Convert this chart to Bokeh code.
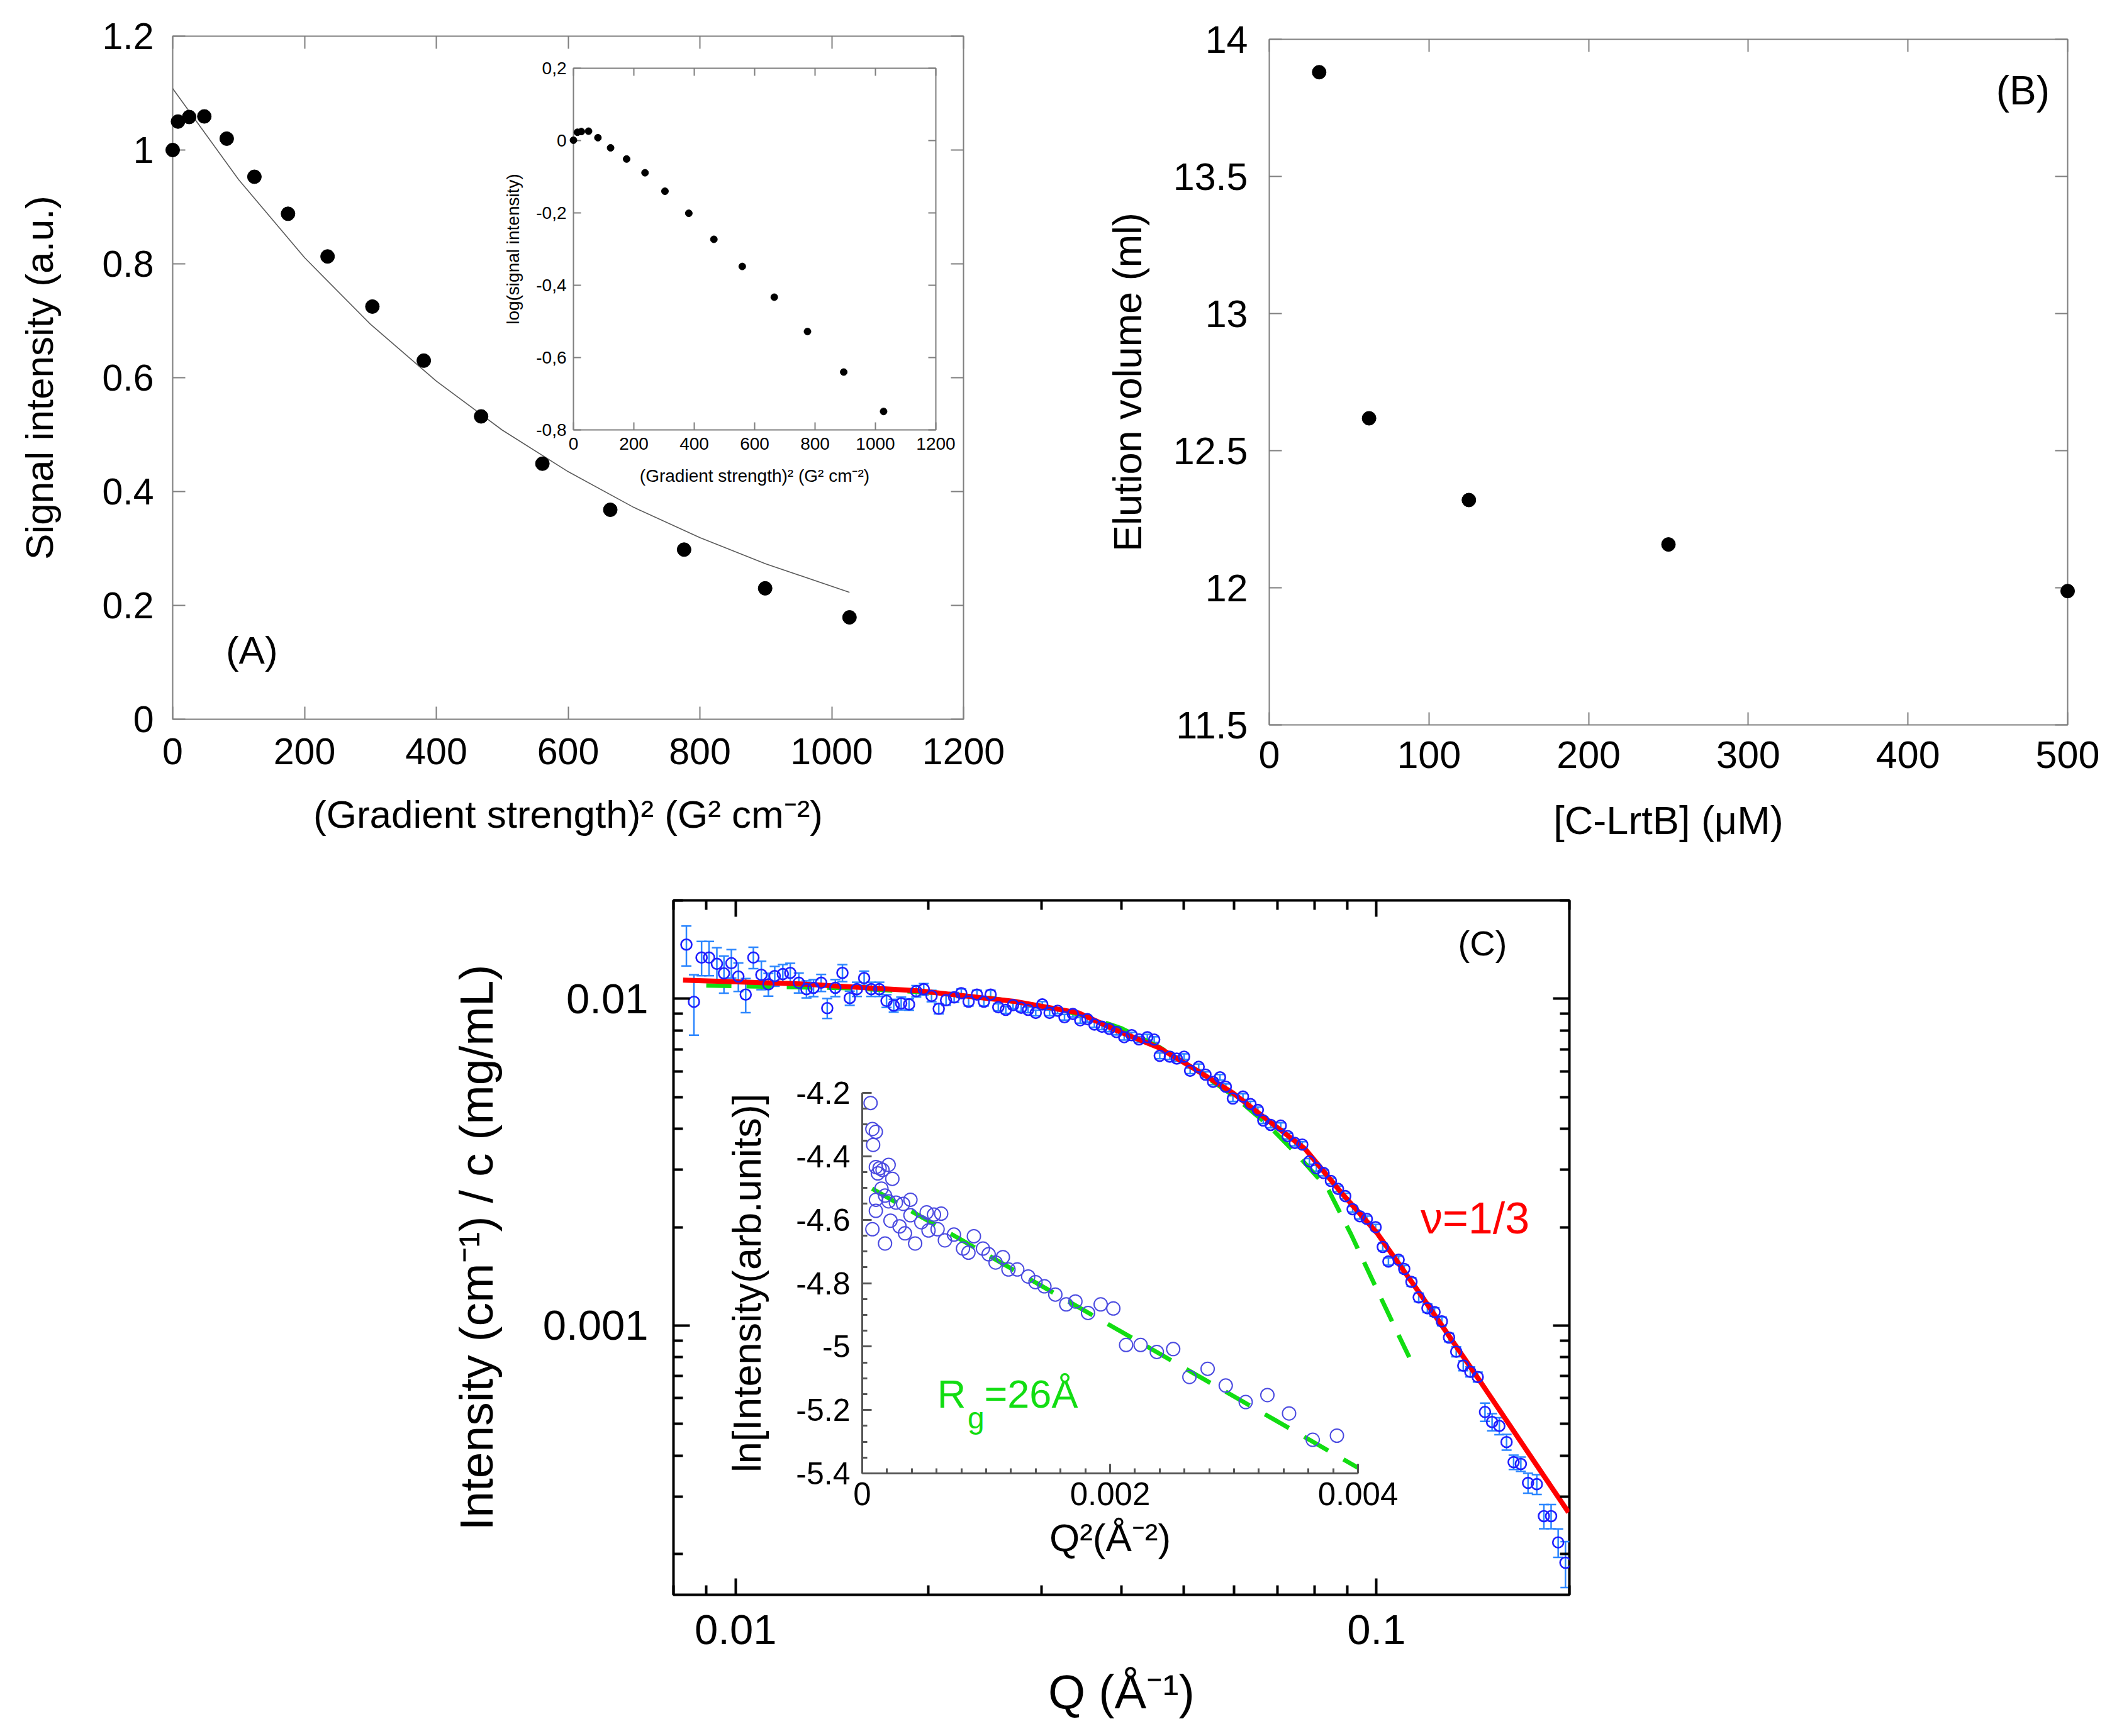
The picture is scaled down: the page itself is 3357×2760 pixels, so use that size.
from bokeh.plotting import figure
from bokeh.models import (LinearAxis, LogAxis, FixedTicker, CustomJSTickFormatter,
                          ColumnDataSource, Whisker, TeeHead)
from bokeh.embed import file_html
from bokeh.resources import INLINE
from bokeh.core.properties import value

FONT = "Liberation Sans"

# ---------------- Panel A : signal decay ----------------
grad2 = [0, 8, 25, 48, 82, 124, 175, 235, 303, 381, 468, 561, 664, 776, 899, 1027]
signal = [1.0, 1.050, 1.058, 1.059, 1.020, 0.953, 0.888, 0.813, 0.725, 0.630,
          0.532, 0.449, 0.368, 0.298, 0.230, 0.179]
fit_grad2 = [0, 100, 200, 300, 400, 500, 600, 700, 800, 900, 1027]
fit_signal = [1.108, 0.948, 0.811, 0.694, 0.594, 0.508, 0.435, 0.372, 0.319, 0.273, 0.223]
# inset of panel A
grad2_inset = [0, 13, 26, 50, 81, 123, 176, 237, 303, 382, 465, 559, 665, 775, 895, 1027]
log_signal = [0.001, 0.023, 0.025, 0.026, 0.008, -0.020, -0.051, -0.089, -0.140, -0.201,
              -0.273, -0.348, -0.433, -0.528, -0.640, -0.749]
a_xticks = [0, 200, 400, 600, 800, 1000, 1200]
a_yticks = [0, 0.2, 0.4, 0.6, 0.8, 1.0, 1.2]
ai_yticks = [-0.8, -0.6, -0.4, -0.2, 0, 0.2]

# ---------------- Panel B : elution volume ----------------
conc = [31.25, 62.5, 125, 250, 500]
elution = [13.880, 12.618, 12.320, 12.158, 11.988]
b_xticks = [0, 100, 200, 300, 400, 500]
b_yticks = [11.5, 12, 12.5, 13, 13.5, 14]

# ---------------- Panel C : SAXS ----------------
q_low = [0.00838, 0.00861, 0.00885, 0.00909, 0.00935, 0.00959, 0.00985, 0.0101, 0.01037, 0.01066,
         0.01097, 0.01125, 0.01151, 0.01185, 0.01217, 0.01255, 0.0129, 0.01323, 0.0136, 0.0139,
         0.01431, 0.01468, 0.01507, 0.01546, 0.01587, 0.01628, 0.01676, 0.0172, 0.01765, 0.01813,
         0.01865, 0.01914, 0.01966, 0.02022, 0.02075, 0.0213, 0.02193, 0.0225, 0.0231, 0.0238,
         0.0244, 0.025, 0.0257, 0.0264, 0.0271, 0.0279, 0.0286, 0.0294, 0.0301, 0.0309,
         0.0318, 0.0326, 0.0336, 0.0345, 0.0354, 0.0363, 0.0373, 0.0383, 0.0393, 0.0404,
         0.0415, 0.0426, 0.0439]
i_low = [0.01465, 0.00979, 0.01337, 0.01337, 0.01279, 0.01196, 0.01285, 0.0117, 0.0103, 0.01337,
         0.01184, 0.01107, 0.01174, 0.0119, 0.0120, 0.0112, 0.0107, 0.0108, 0.0112, 0.00936,
         0.0108, 0.0120, 0.01005, 0.0107, 0.01157, 0.0107, 0.0107, 0.00985, 0.00953, 0.00968,
         0.00961, 0.01055, 0.0107, 0.0102, 0.00932, 0.0099, 0.0101, 0.0104, 0.0098, 0.0103,
         0.0098, 0.0103, 0.00942, 0.00925, 0.00956, 0.00939, 0.00925, 0.00905, 0.00961, 0.00905,
         0.00919, 0.00878, 0.00898, 0.00859, 0.00866, 0.00834, 0.00821, 0.00809, 0.00791, 0.00763,
         0.00774, 0.00751, 0.00763]
err_low = [0.14, 0.21, 0.12, 0.12, 0.12, 0.13, 0.10, 0.10, 0.12, 0.075,
           0.10, 0.08, 0.07, 0.07, 0.07, 0.07, 0.06, 0.06, 0.06, 0.07,
           0.06, 0.06, 0.05, 0.05, 0.05, 0.05, 0.05, 0.045, 0.045, 0.045,
           0.04, 0.04, 0.04, 0.04, 0.035, 0.035, 0.035, 0.03, 0.03, 0.03,
           0.03, 0.03, 0.025, 0.025, 0.025, 0.025, 0.02, 0.02, 0.02, 0.02,
           0.02, 0.02, 0.02, 0.02, 0.02, 0.02, 0.02, 0.02, 0.02, 0.02,
           0.02, 0.02, 0.02]
q_high = [0.0450, 0.0459, 0.0476, 0.0488, 0.0501, 0.0512, 0.0528, 0.0541, 0.0556, 0.0570, 0.0582,
          0.0597, 0.0619, 0.0636, 0.0653, 0.0666, 0.0684, 0.0709, 0.0727, 0.0746, 0.0766,
          0.0786, 0.0806, 0.0827, 0.0849, 0.0871, 0.0894, 0.0918, 0.0942, 0.0966, 0.0997,
          0.1023, 0.1044, 0.1083, 0.1105, 0.1134, 0.1164, 0.1201, 0.1232, 0.1265, 0.1298,
          0.1332, 0.1366, 0.1401, 0.1439, 0.1477, 0.1515, 0.1555, 0.1596, 0.1637, 0.1680,
          0.1724, 0.1779, 0.1825, 0.1873, 0.1921, 0.1972]
i_high = [0.00750, 0.00669, 0.00665, 0.00656, 0.00665, 0.00602, 0.00619, 0.00586, 0.00557, 0.00575, 0.00538,
          0.00495, 0.00502, 0.00476, 0.00457, 0.00424, 0.00411, 0.00409, 0.00380, 0.00362, 0.00358,
          0.00318, 0.00303, 0.00293, 0.00277, 0.00262, 0.00249, 0.00227, 0.00216, 0.00212, 0.00200,
          0.00174, 0.00157, 0.00159, 0.00149, 0.00136, 0.00122, 0.00113, 0.00110, 0.00103, 0.000919,
          0.000832, 0.000754, 0.000722, 0.000696, 0.000544, 0.000507, 0.000493, 0.000440, 0.000382, 0.000377,
          0.000330, 0.000327, 0.000261, 0.000261, 0.000217, 0.000188]
err_high = [0.02, 0.02, 0.02, 0.02, 0.02, 0.02, 0.02, 0.02, 0.02, 0.02, 0.02,
            0.02, 0.02, 0.02, 0.02, 0.02, 0.02, 0.02, 0.02, 0.02, 0.02,
            0.02, 0.02, 0.02, 0.02, 0.02, 0.02, 0.02, 0.02, 0.02, 0.02,
            0.025, 0.025, 0.025, 0.025, 0.03, 0.03, 0.03, 0.03, 0.03, 0.03,
            0.035, 0.035, 0.035, 0.035, 0.064, 0.06, 0.06, 0.055, 0.05, 0.05,
            0.07, 0.07, 0.085, 0.085, 0.10, 0.16]
red_q = [0.00828, 0.0126, 0.0193, 0.0272, 0.0343, 0.0393, 0.0458, 0.0520, 0.0597, 0.0680,
         0.0774, 0.0880, 0.1002, 0.117, 0.1439, 0.1700, 0.1994]
red_i = [0.01140, 0.0111, 0.01058, 0.00982, 0.00905, 0.0080, 0.00708, 0.0061, 0.00515, 0.00422,
         0.00347, 0.00256, 0.00192, 0.00125, 0.000692, 0.000426, 0.000268]
green_q = [0.0090, 0.0150, 0.0200, 0.0250, 0.0300, 0.0350, 0.0400, 0.0458, 0.0520, 0.0600,
           0.0680, 0.0758, 0.0840, 0.0913, 0.0982, 0.1055, 0.1125]
green_i = [0.01098, 0.01078, 0.01045, 0.01005, 0.00950, 0.00888, 0.00812, 0.00712, 0.00610, 0.00503,
           0.00408, 0.00328, 0.00262, 0.00190, 0.00140, 0.00104, 0.000800]
c_xmajor = [0.01, 0.1]
c_xminor = [0.008, 0.009, 0.02, 0.03, 0.04, 0.05, 0.06, 0.07, 0.08, 0.09, 0.2]
c_ymajor = [0.001, 0.01]
c_yminor = [0.0002, 0.0003, 0.0004, 0.0005, 0.0006, 0.0007, 0.0008, 0.0009,
            0.002, 0.003, 0.004, 0.005, 0.006, 0.007, 0.008, 0.009, 0.02]

# inset of panel C (Guinier plot)
q2 = [0.0000673, 0.000082, 0.00011, 0.000088, 0.00011, 0.00014, 0.000164, 0.000126, 0.000213, 0.000243,
      0.000155, 0.000184, 0.000111, 0.000213, 0.000272, 0.00033, 0.000389, 0.00011, 0.000082, 0.000228,
      0.000301, 0.000345, 0.000184, 0.000427, 0.000389, 0.000477, 0.00052, 0.000579, 0.000637, 0.000535,
      0.000608, 0.000667, 0.00074, 0.000901, 0.000813, 0.000857, 0.000974, 0.00102, 0.001076, 0.001135,
      0.00118, 0.001251, 0.001339, 0.001398, 0.00147, 0.001558, 0.001646, 0.00172, 0.001822, 0.001924,
      0.002026, 0.002129, 0.002246, 0.002377, 0.002509, 0.00264, 0.002787, 0.002933, 0.003094, 0.003269,
      0.003444, 0.003635, 0.00383]
ln_i = [-4.232, -4.314, -4.323, -4.364, -4.434, -4.438, -4.443, -4.454, -4.427, -4.471,
        -4.502, -4.524, -4.537, -4.542, -4.546, -4.55, -4.537, -4.572, -4.63, -4.603,
        -4.621, -4.643, -4.675, -4.675, -4.586, -4.608, -4.577, -4.584, -4.581, -4.634,
        -4.63, -4.665, -4.647, -4.652, -4.691, -4.704, -4.691, -4.709, -4.735, -4.718,
        -4.757, -4.757, -4.779, -4.797, -4.81, -4.836, -4.867, -4.858, -4.894, -4.867,
        -4.88, -4.995, -4.995, -5.017, -5.008, -5.096, -5.07, -5.123, -5.175, -5.153,
        -5.211, -5.294, -5.281]
guinier_q2 = [0.00008, 0.004]
guinier_ln = [-4.502, -5.382]
ci_xmajor = [0, 0.002, 0.004]
ci_ymajor = [-5.4, -5.2, -5.0, -4.8, -4.6, -4.4, -4.2]

# ---------------- helpers ----------------
PLAIN = ("var v = Number(tick.toFixed(6)); if (Math.abs(v) < 1e-12) { return '0'; } "
         "return String(v);")
COMMA = ("var v = Number(tick.toFixed(6)); if (Math.abs(v) < 1e-12) { return '0'; } "
         "return String(v).replace('.', ',');")
EMPTY = "return '';"


def fmt(code):
    return CustomJSTickFormatter(code=code)


def style_axis(ax, color, lw, tick_in, minor_in=0, label_px=0, label_standoff=0,
               title=None, title_px=0, title_standoff=0, axis_line=False):
    ax.axis_line_color = color if axis_line else None
    ax.axis_line_width = lw
    ax.major_tick_line_color = color
    ax.major_tick_line_width = lw
    ax.major_tick_in = tick_in
    ax.major_tick_out = 0
    if minor_in:
        ax.minor_tick_line_color = color
        ax.minor_tick_line_width = lw
        ax.minor_tick_in = minor_in
        ax.minor_tick_out = 0
    else:
        ax.minor_tick_line_color = None
    ax.major_label_text_font = FONT
    ax.major_label_text_color = "black"
    if label_px:
        ax.major_label_text_font_size = f"{label_px}px"
        ax.major_label_standoff = label_standoff
    else:
        ax.major_label_text_font_size = "2px"
        ax.major_label_standoff = 0
    if title:
        ax.axis_label = title
        ax.axis_label_text_font = FONT
        ax.axis_label_text_font_size = f"{title_px}px"
        ax.axis_label_text_font_style = "normal"
        ax.axis_label_text_color = "black"
        ax.axis_label_standoff = title_standoff


def base_fig(left, top, width, height, bl, br, bt, bb, z=1, **kw):
    p = figure(width=width, height=height, output_backend="svg", toolbar_location=None,
               min_border_left=bl, min_border_right=br, min_border_top=bt, min_border_bottom=bb,
               **kw)
    p.xgrid.visible = False
    p.ygrid.visible = False
    p.styles = {"position": "absolute", "left": f"{left}px", "top": f"{top}px",
                "z-index": str(z)}
    return p


def add_frame_axes(p, xt, yt, color, lw, tick_in, log=False, xminor=None, yminor=None, minor_in=0):
    Ax = LogAxis if log else LinearAxis
    r = Ax(ticker=FixedTicker(ticks=yt, minor_ticks=yminor or []), formatter=fmt(EMPTY))
    style_axis(r, color, lw, tick_in, minor_in=minor_in)
    p.add_layout(r, "right")
    a = Ax(ticker=FixedTicker(ticks=xt, minor_ticks=xminor or []), formatter=fmt(EMPTY))
    style_axis(a, color, lw, tick_in, minor_in=minor_in)
    p.add_layout(a, "above")


GRAY = "#7f7f7f"

# ---------------- Panel A ----------------
pA = base_fig(0, 0, 1611, 1353, 274, 80, 57, 210, x_range=(0, 1200), y_range=(0, 1.2))
pA.outline_line_color = GRAY
pA.outline_line_width = 2
pA.xaxis.ticker = FixedTicker(ticks=a_xticks)
pA.yaxis.ticker = FixedTicker(ticks=a_yticks)
pA.xaxis.formatter = fmt(PLAIN)
pA.yaxis.formatter = fmt(PLAIN)
style_axis(pA.xaxis[0], GRAY, 2, 20, label_px=59, label_standoff=30,
           title="(Gradient strength)\u00b2 (G\u00b2 cm\u207b\u00b2)", title_px=62, title_standoff=42)
style_axis(pA.yaxis[0], GRAY, 2, 20, label_px=59, label_standoff=30,
           title="Signal intensity (a.u.)", title_px=62, title_standoff=62)
add_frame_axes(pA, a_xticks, a_yticks, GRAY, 2, 20)
pA.line(fit_grad2, fit_signal, line_color="#5a5a5a", line_width=1.6)
rA = pA.scatter(grad2, signal, size=22, color="black")
rA.level = "overlay"
pA.text(x=[120], y=[0.1215], text=["(A)"], text_font=value(FONT), text_font_size="62px",
        text_align="center", text_baseline="middle", text_color="black")

# inset A
pAi = base_fig(771, 83, 756, 725, 140, 40, 25, 125, z=2, x_range=(0, 1200), y_range=(-0.8, 0.2))
pAi.background_fill_color = "white"
pAi.border_fill_color = None
pAi.outline_line_color = GRAY
pAi.outline_line_width = 2
pAi.xaxis.ticker = FixedTicker(ticks=a_xticks)
pAi.yaxis.ticker = FixedTicker(ticks=ai_yticks)
pAi.xaxis.formatter = fmt(COMMA)
pAi.yaxis.formatter = fmt(COMMA)
style_axis(pAi.xaxis[0], GRAY, 2, 12, label_px=28, label_standoff=12,
           title="(Gradient strength)\u00b2 (G\u00b2 cm\u207b\u00b2)", title_px=28, title_standoff=23)
style_axis(pAi.yaxis[0], GRAY, 2, 12, label_px=28, label_standoff=11,
           title="log(signal intensity)", title_px=28, title_standoff=18)
add_frame_axes(pAi, a_xticks, ai_yticks, GRAY, 2, 12)
rAi = pAi.scatter(grad2_inset, log_signal, size=11, color="black")
rAi.level = "overlay"

# ---------------- Panel B ----------------
pB = base_fig(1737, 22, 1604, 1350, 280, 55, 40, 220, x_range=(0, 500), y_range=(11.5, 14))
pB.outline_line_color = GRAY
pB.outline_line_width = 2
pB.xaxis.ticker = FixedTicker(ticks=b_xticks)
pB.yaxis.ticker = FixedTicker(ticks=b_yticks)
pB.xaxis.formatter = fmt(PLAIN)
pB.yaxis.formatter = fmt(PLAIN)
style_axis(pB.xaxis[0], GRAY, 2, 20, label_px=61, label_standoff=26,
           title="[C-LrtB] (\u03bcM)", title_px=63, title_standoff=45)
style_axis(pB.yaxis[0], GRAY, 2, 20, label_px=61, label_standoff=34,
           title="Elution volume (ml)", title_px=63, title_standoff=35)
add_frame_axes(pB, b_xticks, b_yticks, GRAY, 2, 20)
rB = pB.scatter(conc, elution, size=22, color="black")
rB.level = "overlay"
pB.text(x=[472], y=[13.812], text=["(B)"], text_font=value(FONT), text_font_size="64px",
        text_align="center", text_baseline="middle", text_color="black")

# ---------------- Panel C ----------------
pC = base_fig(670, 1401, 1864, 1349, 400, 40, 30, 215, x_axis_type="log", y_axis_type="log",
              x_range=(0.008, 0.2), y_range=(0.00015, 0.02))
pC.outline_line_color = "black"
pC.outline_line_width = 4
pC.xaxis.ticker = FixedTicker(ticks=c_xmajor, minor_ticks=c_xminor)
pC.yaxis.ticker = FixedTicker(ticks=c_ymajor, minor_ticks=c_yminor)
pC.xaxis.formatter = fmt(PLAIN)
pC.yaxis.formatter = fmt(PLAIN)
style_axis(pC.xaxis[0], "black", 4, 26, minor_in=15, label_px=67, label_standoff=32,
           title="Q (\u00c5\u207b\u00b9)", title_px=76, title_standoff=30)
style_axis(pC.yaxis[0], "black", 4, 26, minor_in=15, label_px=67, label_standoff=40,
           title="Intensity (cm\u207b\u00b9) / c (mg/mL)", title_px=75, title_standoff=61)
add_frame_axes(pC, c_xmajor, c_ymajor, "black", 4, 26, log=True,
               xminor=c_xminor, yminor=c_yminor, minor_in=15)

q_all = q_low + q_high
i_all = i_low + i_high
e_all = err_low + err_high
src = ColumnDataSource(data=dict(
    q=q_all, i=i_all,
    up=[v * (1 + e) for v, e in zip(i_all, e_all)],
    lo=[v * (1 - e) for v, e in zip(i_all, e_all)]))
ERR = "#2b86ff"
pC.line(green_q, green_i, line_color="#12dd12", line_width=7, line_dash="40 24")
pC.line(red_q, red_i, line_color="#ff0000", line_width=8)
pC.add_layout(Whisker(source=src, base="q", upper="up", lower="lo", dimension="height",
                      line_color=ERR, line_width=2.5,
                      upper_head=TeeHead(size=16, line_color=ERR, line_width=2.5),
                      lower_head=TeeHead(size=16, line_color=ERR, line_width=2.5)))
pC.scatter("q", "i", source=src, size=17, fill_color=None, line_color="#1f1fff", line_width=2.6)
pC.text(x=[0.1464], y=[0.01479], text=["(C)"], text_font=value(FONT), text_font_size="56px",
        text_align="center", text_baseline="middle", text_color="black")
pC.text(x=[0.1425], y=[0.002133], text=["\u03bd=1/3"], text_font=value(FONT), text_font_size="70px",
        text_align="center", text_baseline="middle", text_color="#ff0000")

# inset C
pCi = base_fig(1140, 1707, 1098, 815, 230, 80, 30, 180, z=2, x_range=(0, 0.004), y_range=(-5.4, -4.2))
pCi.background_fill_color = None
pCi.border_fill_color = None
pCi.outline_line_color = None
pCi.xaxis.ticker = FixedTicker(ticks=ci_xmajor, minor_ticks=[0.0002 * k for k in range(1, 20)])
pCi.yaxis.ticker = FixedTicker(ticks=ci_ymajor, minor_ticks=[-5.4 + 0.05 * k for k in range(1, 24)])
pCi.xaxis.formatter = fmt(PLAIN)
pCi.yaxis.formatter = fmt(PLAIN)
IGRAY = "#555555"
style_axis(pCi.xaxis[0], IGRAY, 3, 15, minor_in=8, label_px=51, label_standoff=14,
           title="Q\u00b2(\u00c5\u207b\u00b2)", title_px=62, title_standoff=14, axis_line=True)
style_axis(pCi.yaxis[0], IGRAY, 3, 15, minor_in=8, label_px=50, label_standoff=19,
           title="ln[Intensity(arb.units)]", title_px=63, title_standoff=40, axis_line=True)
pCi.line(guinier_q2, guinier_ln, line_color="#12dd12", line_width=7, line_dash="44 28")
pCi.scatter(q2, ln_i, size=21, fill_color=None, line_color="#4a4ae0", line_width=2)
GREEN = "#12dd12"
pCi.text(x=[0.000605], y=[-5.150], text=["R"], text_font=value(FONT), text_font_size="63px",
         text_align="left", text_baseline="alphabetic", text_color=GREEN)
pCi.text(x=[0.00085], y=[-5.225], text=["g"], text_font=value(FONT), text_font_size="48px",
         text_align="left", text_baseline="alphabetic", text_color=GREEN)
pCi.text(x=[0.000985], y=[-5.150], text=["=26\u00c5"], text_font=value(FONT), text_font_size="63px",
         text_align="left", text_baseline="alphabetic", text_color=GREEN)

html = file_html([pA, pB, pC, pAi, pCi], INLINE, title="Figure")
open("out.html", "w").write(html)
